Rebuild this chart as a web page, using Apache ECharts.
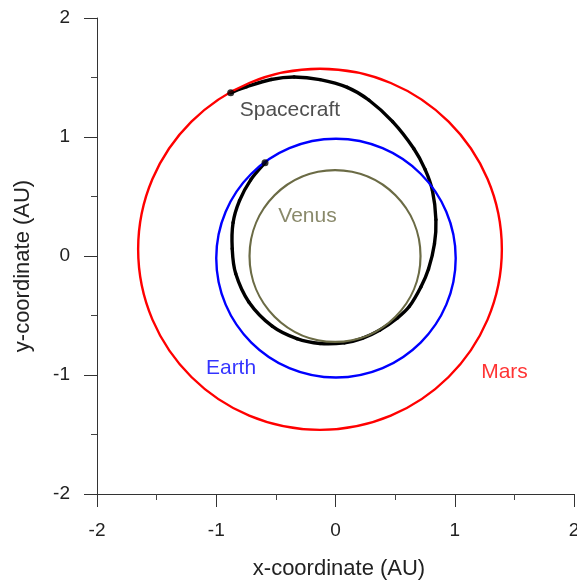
<!DOCTYPE html>
<html>
<head>
<meta charset="utf-8">
<script src="https://cdn.jsdelivr.net/npm/echarts@6/dist/echarts.min.js"></script>
<style>
  html, body { margin: 0; padding: 0; background: #fff; }
  #chart { width: 577px; height: 580px; }
</style>
</head>
<body>
<div id="chart"></div>
<script>
// ---- Data (AU) ----
// Orbits: [centerX, centerY, semiAxisX, semiAxisY]
const venusOrbit = [-0.004, 0.0, 0.717, 0.722];
const earthOrbit = [0.004, -0.018, 1.004, 1.003];
const marsOrbit = [-0.13, 0.056, 1.525, 1.517];

// Spacecraft trajectory, read point by point
const spacecraftX = [-0.591, -0.711, -0.805, -0.859, -0.866, -0.837, -0.727, -0.531, -0.324, -0.130,
  0.077, 0.225, 0.373, 0.520, 0.620, 0.716, 0.780, 0.830, 0.842, 0.813,
  0.752, 0.656, 0.479, 0.279, 0.099, -0.130, -0.347, -0.540, -0.743, -0.879];
const spacecraftY = [0.784, 0.640, 0.465, 0.279, 0.061, -0.148, -0.386, -0.590, -0.695, -0.735,
  -0.729, -0.692, -0.622, -0.520, -0.423, -0.261, -0.110, 0.102, 0.306, 0.549,
  0.726, 0.903, 1.129, 1.311, 1.417, 1.482, 1.504, 1.483, 1.423, 1.372];

// Departure (Earth) and arrival (Mars) points
const eventX = [-0.591, -0.879];
const eventY = [0.784, 1.372];

// Text annotations
const labelNames = ['Spacecraft', 'Venus', 'Earth', 'Mars'];
const labelX = [-0.382, -0.235, -0.876, 1.417];
const labelY = [1.227, 0.336, -0.941, -0.975];
const labelColors = ['#222222', '#6b6b45', '#0000ff', '#ff0000'];

// Axis ticks
const axisMin = -2, axisMax = 2, axisStep = 1;

const FONT = "'Liberation Sans', Arial, sans-serif";

function ellipseSeries(orbit, color, width, z) {
  return {
    type: 'custom',
    coordinateSystem: 'cartesian2d',
    silent: true,
    z: z,
    data: [orbit],
    encode: { x: 0, y: 1 },
    renderItem: function (params, api) {
      const c = api.coord([api.value(0), api.value(1)]);
      const s = api.size([api.value(2), api.value(3)]);
      return {
        type: 'ellipse',
        shape: { cx: c[0], cy: c[1], rx: s[0], ry: s[1] },
        style: { fill: 'none', stroke: color, lineWidth: width }
      };
    }
  };
}

const trajectory = spacecraftX.map((x, i) => [x, spacecraftY[i]]);
const events = eventX.map((x, i) => [x, eventY[i]]);
const labels = labelNames.map((n, i) => ({
  name: n,
  value: [labelX[i], labelY[i]],
  label: { color: labelColors[i] }
}));

// Smooth curve through the read points (Catmull-Rom segments in pixel space)
const trajectorySeries = {
  type: 'custom',
  coordinateSystem: 'cartesian2d',
  silent: true,
  z: 2,
  data: trajectory,
  encode: { x: 0, y: 1 },
  renderItem: function (params, api) {
    const i = params.dataIndex;
    const n = trajectory.length;
    if (i >= n - 1) return null;
    const P = (k) => api.coord(trajectory[Math.max(0, Math.min(n - 1, k))]);
    const p0 = P(i - 1), p1 = P(i), p2 = P(i + 1), p3 = P(i + 2);
    return {
      type: 'bezierCurve',
      shape: {
        x1: p1[0], y1: p1[1],
        x2: p2[0], y2: p2[1],
        cpx1: p1[0] + (p2[0] - p0[0]) / 6, cpy1: p1[1] + (p2[1] - p0[1]) / 6,
        cpx2: p2[0] - (p3[0] - p1[0]) / 6, cpy2: p2[1] - (p3[1] - p1[1]) / 6
      },
      style: { fill: 'none', stroke: '#000', lineWidth: 3.4, lineCap: 'round' }
    };
  }
};

const axisCommon = {
  type: 'value',
  min: axisMin,
  max: axisMax,
  interval: axisStep,
  splitLine: { show: false },
  axisLine: { show: true, onZero: false, lineStyle: { color: '#333', width: 1 } },
  axisTick: { show: true, inside: false, length: 13, lineStyle: { color: '#333', width: 1 } },
  minorTick: { show: true, splitNumber: 2, length: 6, lineStyle: { color: '#444', width: 1 } },
  axisLabel: { color: '#222', fontSize: 19, fontFamily: FONT, margin: 27, hideOverlap: false },
  nameLocation: 'middle',
  nameTextStyle: { color: '#222', fontSize: 22, fontFamily: FONT }
};

const chart = echarts.init(document.getElementById('chart'), null, { renderer: 'canvas' });
chart.setOption({
  animation: false,
  backgroundColor: '#fff',
  grid: { left: 97, right: 3, top: 18, bottom: 86, containLabel: false, outerBoundsMode: 'none' },
  xAxis: Object.assign({}, axisCommon, {
    name: 'x-coordinate (AU)',
    nameGap: 64,
    nameTextStyle: Object.assign({}, axisCommon.nameTextStyle, { padding: [0, 0, 0, 7] })
  }),
  yAxis: Object.assign({}, axisCommon, {
    name: 'y-coordinate (AU)',
    nameGap: 63,
    nameTextStyle: Object.assign({}, axisCommon.nameTextStyle, { padding: [0, 20, 0, 0] })
  }),
  series: [
    trajectorySeries,
    ellipseSeries(venusOrbit, '#6b6b45', 2.2, 3),
    ellipseSeries(earthOrbit, '#0000ff', 2.4, 3),
    ellipseSeries(marsOrbit, '#ff0000', 2.4, 3),
    {
      type: 'scatter',
      data: events,
      symbol: 'circle',
      symbolSize: 7,
      z: 5,
      itemStyle: { color: '#000' },
      silent: true
    },
    {
      type: 'scatter',
      data: labels,
      symbolSize: 0,
      z: 6,
      silent: true,
      label: {
        show: true,
        position: 'inside',
        formatter: '{b}',
        fontSize: 21,
        fontFamily: FONT
      }
    }
  ]
});
</script>
</body>
</html>
